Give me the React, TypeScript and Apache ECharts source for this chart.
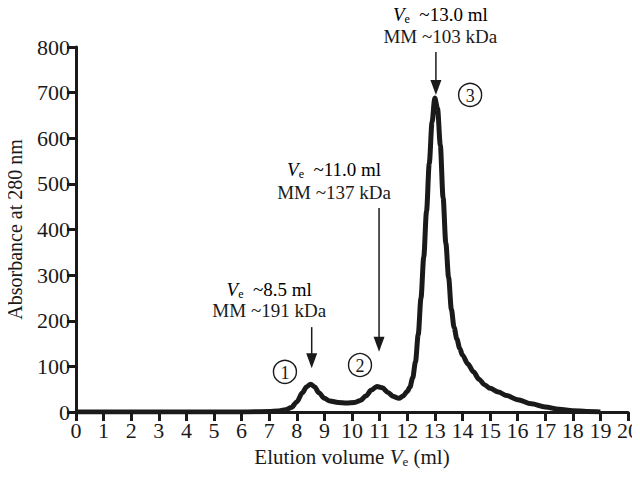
import React, { useEffect, useRef } from "react";
import * as echarts from "echarts";

// Elution profile (ml vs. A280)
const volume = [
  0, 6, 7.0, 7.3, 7.6, 7.8, 8.0, 8.2, 8.35, 8.5, 8.65, 8.8, 9.0, 9.2, 9.5, 9.8, 10.1, 10.3,
  10.5, 10.7, 10.9, 11.1, 11.3, 11.5, 11.7, 11.85, 12.0, 12.1, 12.2, 12.3, 12.4, 12.5, 12.6,
  12.7, 12.8, 12.9, 13.0, 13.1, 13.2, 13.3, 13.4, 13.5, 13.6, 13.7, 13.8, 13.9, 14.0, 14.2,
  14.4, 14.6, 14.8, 15.0, 15.3, 15.6, 16.0, 16.5, 17.0, 17.5, 18.0, 18.5, 19.0,
];
const absorbance = [
  0, 0, 1, 2, 5, 10, 22, 42, 55, 61, 55, 42, 30, 24, 21, 20, 21, 25,
  35, 48, 56, 53, 43, 34, 30, 35, 45, 55, 75, 110, 170, 250, 340,
  440, 545, 635, 688, 665, 585, 470, 370, 295, 225, 185, 160, 140, 125, 105,
  88, 72, 60, 52, 44, 36, 27, 18, 11, 6, 3, 1, 0,
];

// Peak annotations
const peakVe = ["8.5", "11.0", "13.0"];
const peakMass = ["191", "137", "103"];
const labelX = [7.0, 9.35, 13.2];
const labelTopY = [269, 532, 872];
const labelBottomY = [222, 482, 822];
const arrowX = [8.54, 10.98, 13.04];
const arrowFromY = [186, 447, 789];
const arrowToY = [96, 132, 695];
const circleX = [7.57, 10.29, 14.28];
const circleY = [88, 103, 695];

const xTicks = { min: 0, max: 20, interval: 1 };
const yTicks = { min: 0, max: 800, interval: 100 };

const FONT = "'Liberation Serif', 'Times New Roman', serif";
const INK = "#1a1a1a";

const makeRich = (size: number) => ({
  v: { fontStyle: "italic", fontSize: size, fontFamily: FONT, color: INK, lineHeight: size },
  e: { fontSize: Math.round(size * 0.62), fontFamily: FONT, color: INK, padding: [9, 0, 0, 0], lineHeight: 12 },
  t: { fontSize: size, fontFamily: FONT, color: INK, lineHeight: size },
});

export default function App() {
  const ref = useRef<HTMLDivElement>(null);

  useEffect(() => {
    if (!ref.current) return;
    const chart = echarts.init(ref.current, null, { renderer: "svg" });
    const axisCommon = {
      axisLine: { show: true, lineStyle: { color: INK, width: 3 } },
      axisTick: { show: true, length: 9, lineStyle: { color: INK, width: 3 } },
      axisLabel: { color: INK, fontSize: 22, fontFamily: FONT },
      splitLine: { show: false },
    };
    chart.setOption({
      animation: false,
      backgroundColor: "#ffffff",
      grid: { left: 76, right: 12, top: 47, bottom: 66, outerBoundsMode: "none" },
      xAxis: {
        type: "value",
        ...xTicks,
        ...axisCommon,
        axisLabel: { ...axisCommon.axisLabel, margin: 7 },
        name: "{t|Elution volume }{v|V}{e|e}{t| (ml)}",
        nameLocation: "middle",
        nameGap: 33,
        nameTextStyle: { rich: makeRich(21) },
      },
      yAxis: {
        type: "value",
        ...yTicks,
        ...axisCommon,
        axisLabel: { ...axisCommon.axisLabel, margin: 6 },
        name: "Absorbance at 280 nm",
        nameLocation: "middle",
        nameGap: 51,
        nameTextStyle: { color: INK, fontSize: 20, fontFamily: FONT },
      },
      series: [
        {
          type: "line",
          data: volume.map((v, i) => [v, absorbance[i]]),
          smooth: 0.3,
          smoothMonotone: "x",
          showSymbol: false,
          lineStyle: { color: INK, width: 5 },
          z: 3,
        },
      ],
    });

    const px = (x: number, y: number) => chart.convertToPixel({ gridIndex: 0 }, [x, y]) as number[];
    const rich = makeRich(19);
    const elements: any[] = [];
    peakVe.forEach((ve, i) => {
      const top = px(labelX[i], labelTopY[i]);
      const bottom = px(labelX[i], labelBottomY[i]);
      elements.push({
        type: "text",
        x: top[0],
        y: top[1],
        style: {
          text: `{v|V}{e|e}{t|  ~${ve} ml}`,
          rich,
          align: "center",
          verticalAlign: "middle",
        },
      });
      elements.push({
        type: "text",
        x: bottom[0],
        y: bottom[1],
        style: {
          text: `MM ~${peakMass[i]} kDa`,
          fill: INK,
          fontSize: 19,
          fontFamily: FONT,
          align: "center",
          verticalAlign: "middle",
        },
      });
      const a0 = px(arrowX[i], arrowFromY[i]);
      const a1 = px(arrowX[i], arrowToY[i]);
      elements.push({
        type: "line",
        shape: { x1: a0[0], y1: a0[1], x2: a1[0], y2: a1[1] - 12 },
        style: { stroke: INK, lineWidth: 1.5 },
      });
      elements.push({
        type: "polygon",
        shape: {
          points: [
            [a1[0] - 5.5, a1[1] - 15],
            [a1[0] + 5.5, a1[1] - 15],
            [a1[0], a1[1]],
          ],
        },
        style: { fill: INK },
      });
      const c = px(circleX[i], circleY[i]);
      elements.push({
        type: "circle",
        shape: { cx: c[0], cy: c[1], r: 11.5 },
        style: { fill: "none", stroke: INK, lineWidth: 1.4 },
      });
      elements.push({
        type: "text",
        x: c[0],
        y: c[1] + 1,
        style: {
          text: String(i + 1),
          fill: INK,
          fontSize: 18,
          fontFamily: FONT,
          align: "center",
          verticalAlign: "middle",
        },
      });
    });
    chart.setOption({ graphic: elements });

    return () => chart.dispose();
  }, []);

  return <div ref={ref} style={{ width: 640, height: 478, margin: -8 }} />;
}
